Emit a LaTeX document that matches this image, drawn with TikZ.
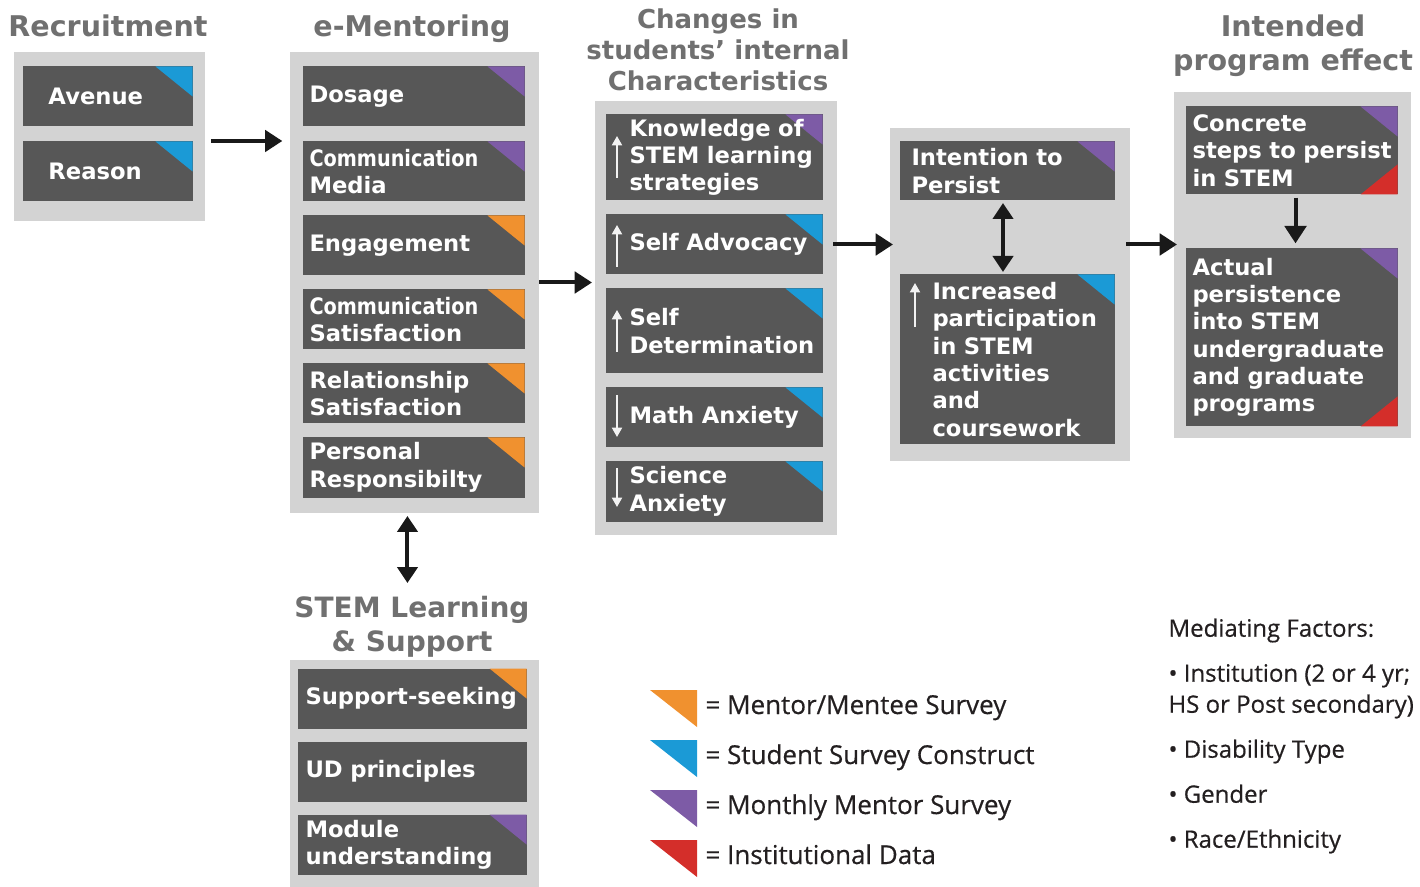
\documentclass[tikz,border=0pt]{standalone}
\usepackage{graphicx}
\usepackage{fontspec}
\setmainfont{DejaVu Sans}
\newfontfamily\legendfont{Open Sans}[FakeBold=0.5]
\usetikzlibrary{arrows.meta}

\definecolor{panelgray}{RGB}{211,211,211}
\definecolor{cellgray}{RGB}{87,87,87}
\definecolor{titlegray}{RGB}{112,112,112}
\definecolor{srvorange}{RGB}{240,145,47}
\definecolor{srvblue}{RGB}{27,154,214}
\definecolor{srvpurple}{RGB}{125,91,166}
\definecolor{srvred}{RGB}{212,46,42}
\definecolor{legendtext}{RGB}{35,31,32}

\newdimen\pxu \pxu=0.75pt
\newcommand\squeeze[1]{\scalebox{0.85}[1]{#1}}

\tikzset{every picture/.style={line width=0.75pt},
  panel/.style 2 args={fill=panelgray, anchor=north west, inner sep=0pt, minimum width=#1*0.75pt, minimum height=#2*0.75pt},
  cell/.style n args={3}{fill=cellgray, text=white, anchor=north west, inner sep=0pt, text width=#1*0.75pt, minimum height=#2*0.75pt, font=\fontsize{17}{20.5}\selectfont\bfseries, execute at begin node={\leftskip=#3\pxu\rightskip=-14\pxu plus 1fil}},
  % corner marks of the data sources (inside the node y points up)
  srcmark/.style={path picture={\fill[#1] (path picture bounding box.north east) -- ++(-37,0) -- ++(37,-30) -- cycle;}},
  srcmarks/.style 2 args={path picture={\fill[#1] (path picture bounding box.north east) -- ++(-37,0) -- ++(37,-30) -- cycle;
      \fill[#2] (path picture bounding box.south east) -- ++(-37,0) -- ++(37,30) -- cycle;}},
  title/.style={text=titlegray, align=center, inner sep=0pt, anchor=north},
  legend/.style={text=legendtext, font=\legendfont\fontsize{19.5}{23}\selectfont, inner sep=0pt, anchor=base west},
  flow/.style={draw=black!90, line width=3pt, -{Triangle[length=13pt,width=16pt]}},
  twoway/.style={draw=black!90, line width=3pt, {Triangle[length=12pt,width=15pt]}-{Triangle[length=12pt,width=15pt]}},
  updown/.style={draw=white!95!black, line width=1.4pt, -{Triangle[length=7pt,width=7.5pt]}}
}

\begin{document}
\begin{tikzpicture}[x=0.75pt,y=0.75pt,yscale=-1,xscale=1]
	\useasboundingbox (0,0) rectangle (1420,887);

	% Titles
	\node[title, font=\fontsize{21.4}{25}\selectfont\bfseries] (rectitle) at (108,14) {Recruitment};
	\node[title, font=\fontsize{21.4}{25}\selectfont\bfseries] (mentitle) at (412,14) {e-Mentoring};
	\node[title, font=\fontsize{19.5}{23.3}\selectfont\bfseries] (chgtitle) at (718,8) {Changes in\\students’ internal\\Characteristics};
	\node[title, font=\fontsize{21.4}{26}\selectfont\bfseries] (efftitle) at (1293,14) {Intended\\program effect};
	\node[title, font=\fontsize{21}{25}\selectfont\bfseries] (stemtitle) at (412,596) {STEM Learning\\\& Support};

	% Panels
	\node[panel={191}{169}] (recruit) at (13,52) {};
	\node[panel={249}{460}] (ementor) at (289,52) {};
	\node[panel={249}{228}] (stemls) at (289,659) {};
	\node[panel={242}{433}] (changes) at (594,101) {};
	\node[panel={240}{333}] (intent) at (889,128) {};
	\node[panel={237}{346}] (effect) at (1173,92) {};

	% Recruitment
	\node[cell={170}{60}{26}, srcmark=srvblue] (avenue) at (22,66) {Avenue};
	\node[cell={170}{60}{26}, srcmark=srvblue] (reason) at (22,141) {Reason};

	% e-Mentoring
	\node[cell={222}{60}{7}, srcmark=srvpurple] (dosage) at (302,66) {Dosage};
	\node[cell={222}{60}{7}, srcmark=srvpurple] (commmedia) at (302,141) {\squeeze{Communication}\\Media};
	\node[cell={222}{60}{7}, srcmark=srvorange] (engage) at (302,215) {Engagement};
	\node[cell={222}{60}{7}, srcmark=srvorange] (commsat) at (302,289) {\squeeze{Communication}\\Satisfaction};
	\node[cell={222}{60}{7}, srcmark=srvorange] (relsat) at (302,363) {Relationship\\Satisfaction};
	\node[cell={222}{60}{7}, srcmark=srvorange] (personal) at (302,437) {Personal\\Responsibilty};

	% STEM Learning & Support
	\node[cell={229}{60}{8}, srcmark=srvorange] (support) at (297,668) {Support-seeking};
	\node[cell={229}{60}{8}] (udp) at (297,741) {UD principles};
	\node[cell={229}{60}{8}, srcmark=srvpurple] (module) at (297,814) {Module\\understanding};

	% Changes in students' internal characteristics
	\node[cell={217}{86}{24}, srcmark=srvpurple] (know) at (605,114) {Knowledge of\\STEM learning\\strategies};
	\node[cell={217}{60}{24}, srcmark=srvblue] (advoc) at (605,214) {Self Advocacy};
	\node[cell={217}{85}{24}, srcmark=srvblue] (determ) at (605,288) {Self\\Determination};
	\node[cell={217}{60}{24}, srcmark=srvblue] (math) at (605,387) {Math Anxiety};
	\node[cell={217}{60}{24}, srcmark=srvblue] (science) at (605,461) {Science\\Anxiety};
	\draw[updown] (617,178) -- (617,136);
	\draw[updown] (617,267) -- (617,225);
	\draw[updown] (617,352) -- (617,310);
	\draw[updown] (617,395) -- (617,437);
	\draw[updown] (617,468) -- (617,507);

	% Intention
	\node[cell={215}{59}{12}, srcmark=srvpurple] (persist) at (899,141) {Intention to\\Persist};
	\node[cell={215}{170}{33}, srcmark=srvblue] (partic) at (899,274) {Increased\\participation\\in STEM\\activities\\and\\coursework};
	\draw[updown] (915,327) -- (915,283);

	% Intended program effect
	\node[cell={212}{88}{7}, srcmarks={srvpurple}{srvred}] (concrete) at (1185,106) {Concrete\\steps to persist\\in STEM};
	\node[cell={212}{178}{7}, srcmarks={srvpurple}{srvred}] (actual) at (1185,248) {Actual\\persistence\\into STEM\\undergraduate\\and graduate\\programs};

	%Straight Lines
	\draw[flow, shorten <=4.5pt, shorten >=5pt] (reason.north -| recruit.east) -- (reason.north -| ementor.west);
	\draw[flow, shorten >=1.5pt] (ementor.east) -- (ementor.east -| changes.west);
	\draw[flow, shorten <=-3pt, shorten >=-3pt] (advoc.east -| changes.east) -- (advoc.east -| intent.west);
	\draw[flow, shorten <=-3pt, shorten >=-3pt] (advoc.east -| intent.east) -- (advoc.east -| effect.west);
	\draw[twoway, shorten <=2.2pt, shorten >=9.7pt] ([xshift=-4.9pt]ementor.south) -- ([xshift=-4.9pt]ementor.south |- stemtitle.north);
	\draw[twoway, shorten <=1.5pt, shorten >=1.5pt] ([xshift=-3pt]persist.south) -- ([xshift=-3pt]partic.north);
	\draw[flow, shorten <=2pt, shorten >=3.5pt] ([xshift=3pt]concrete.south) -- ([xshift=3pt]actual.north);

	% Legend
	\foreach \clr/\txt [count=\i from 0] in {srvorange/{= Mentor/Mentee Survey}, srvblue/{= Student Survey Construct}, srvpurple/{= Monthly Mentor Survey}, srvred/{= Institutional Data}} {
		\fill[\clr] (650,690+50*\i) -- (697,690+50*\i) -- (697,727+50*\i) -- cycle;
		\node[legend] (leg\i) at (705,714+50*\i) {\txt};
	}

	% Text Node
	\node[text=legendtext, font=\legendfont\fontsize{18}{23.25}\selectfont, align=left, inner sep=0pt, anchor=north west] (mediate) at (1168,618) {Mediating Factors:\\[10.5pt]• Institution (2 or 4 yr;\\HS or Post secondary)\\[10.5pt]• Disability Type\\[10.5pt]• Gender\\[10.5pt]• Race/Ethnicity};

\end{tikzpicture}
\end{document}
